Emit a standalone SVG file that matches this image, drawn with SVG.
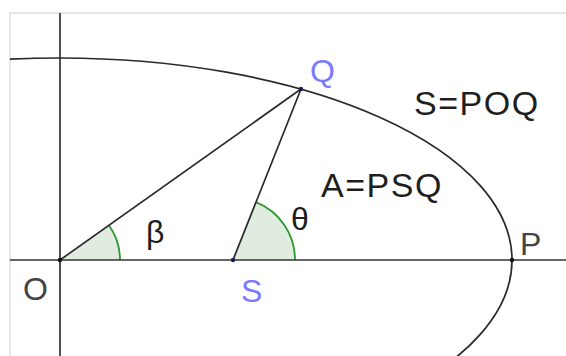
<svg xmlns="http://www.w3.org/2000/svg" width="566" height="356" viewBox="0 0 566 356">
<style>
.ln{fill:none;stroke:#2a2a2a;stroke-width:1.7}
.ax{fill:none;stroke:#333;stroke-width:1.7}
.ang{fill:#e0ece0;stroke:none}
.arc{fill:none;stroke:#2e9a2e;stroke-width:1.8}
.t{font-family:"Liberation Sans",Arial,sans-serif;font-size:32px;fill:#1e1e1e}
.big{font-size:34px;letter-spacing:1.5px}
.b{fill:#7a7aff}
.pt{fill:#111}
.ptb{fill:#1a1a55}
</style>
<defs>
<clipPath id="frame"><rect x="10" y="13" width="556" height="343"/></clipPath>
</defs>
<rect x="10" y="13" width="566" height="353" fill="#fff" stroke="#e6e6e6" stroke-width="2"/>
<g id="angles">
<path class="ang" d="M60,260 L120,260 A60,60 0 0 0 108.9,225.2 Z"/>
<path class="arc" d="M120,260 A60,60 0 0 0 108.9,225.2"/>
<path class="ang" d="M233,260 L295,260 A62,62 0 0 0 255.9,202.2 Z"/>
<path class="arc" d="M295,260 A62,62 0 0 0 255.9,202.2"/>
</g>
<g id="connectors">
<line class="ax" x1="60" y1="13" x2="60" y2="356"/>
<line class="ax" x1="10" y1="260" x2="566" y2="260"/>
<ellipse class="ln" cx="60" cy="260" rx="452" ry="202" clip-path="url(#frame)"/>
<line class="ln" x1="60" y1="260" x2="301" y2="89"/>
<line class="ln" x1="233" y1="260" x2="301" y2="89"/>
</g>
<g id="O"><circle class="pt" cx="60" cy="260" r="2.2"/><text class="t" x="23" y="300" style="fill:#444">O</text></g>
<g id="S"><circle class="ptb" cx="233" cy="260" r="2.2"/><text class="t b" x="241" y="302">S</text></g>
<g id="Q"><circle class="ptb" cx="301" cy="89" r="2.2"/><text class="t b" x="310" y="82">Q</text></g>
<g id="P"><circle class="pt" cx="512" cy="260" r="2.2"/><text class="t" x="520" y="255" style="fill:#444">P</text></g>
<g id="beta"><text class="t" x="146" y="243">β</text></g>
<g id="theta"><text class="t" x="291" y="230">θ</text></g>
<g id="SPOQ"><text class="t big" x="414" y="115">S=POQ</text></g>
<g id="APSQ"><text class="t big" x="321" y="197">A=PSQ</text></g>
</svg>
